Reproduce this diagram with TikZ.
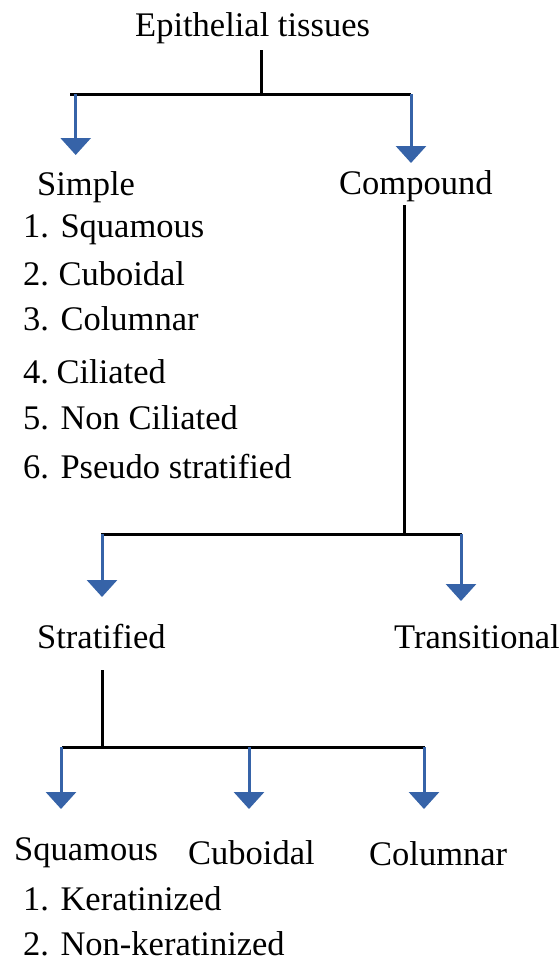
\documentclass[tikz,border=0pt]{standalone}
\usepackage{fontspec}
\setmainfont{Liberation Serif}
\usetikzlibrary{arrows.meta}
\definecolor{arrowblue}{RGB}{54,99,168}
\begin{document}
\begin{tikzpicture}[x=1pt,y=-1pt,
  lbl/.style={anchor=base west,inner sep=0pt,font=\fontsize{34.5}{40}\selectfont},
  tree/.style={line width=3pt,black},
  down/.style={line width=3pt,arrowblue,-{Triangle[width=30pt,length=17pt]}}]
\useasboundingbox (0,0) rectangle (559,962);
% texts
\node[lbl] (root) at (135,36) {Epithelial tissues};
\node[lbl] (simple) at (37,195) {Simple};
\node[lbl] (compound) at (339,194) {Compound};
\node[lbl] (s1) at (23,237) {1. Squamous};
\node[lbl] (s2) at (23,285) {2. \hspace{-2pt}Cuboidal};
\node[lbl] (s3) at (23,330) {3. Columnar};
\node[lbl] (s4) at (23,383) {4. \hspace{-4pt}Ciliated};
\node[lbl] (s5) at (23,429) {5. Non Ciliated};
\node[lbl] (s6) at (23,478) {6. Pseudo stratified};
\node[lbl] (strat) at (37,648) {Stratified};
\node[lbl] (trans) at (394,648) {Transitional};
\node[lbl] (squ) at (14,860) {Squamous};
\node[lbl] (cub) at (188,864) {Cuboidal};
\node[lbl] (col) at (369,865) {Columnar};
\node[lbl] (k1) at (23,910) {1. Keratinized};
\node[lbl] (k2) at (23,955) {2. Non-keratinized};
% level 1
\coordinate (r1) at (261,50);
\coordinate (r2) at (261,94);
\coordinate (b1l) at (70,94);
\coordinate (b1r) at (411,94);
\coordinate (a1s) at (75.7,94);
\coordinate (a1t) at (75.7,155);
\coordinate (a2s) at (411,94);
\coordinate (a2t) at (411,163);
\draw[tree] (r1) -- (r2);
\draw[tree] (b1l) -- (b1r);
\draw[down] (a1s) -- (a1t);
\draw[down] (a2s) -- (a2t);
% level 2
\coordinate (c1) at (404,205);
\coordinate (c2) at (404,534);
\coordinate (b2l) at (101,534);
\coordinate (b2r) at (462,534);
\coordinate (a3s) at (102,534);
\coordinate (a3t) at (102,597);
\coordinate (a4s) at (461,534);
\coordinate (a4t) at (461,601);
\draw[tree] (c1) -- (c2);
\draw[tree] (b2l) -- (b2r);
\draw[down] (a3s) -- (a3t);
\draw[down] (a4s) -- (a4t);
% level 3
\coordinate (d1) at (102,670);
\coordinate (d2) at (102,747);
\coordinate (b3l) at (62,747);
\coordinate (b3r) at (425,747);
\coordinate (a5s) at (61,747);
\coordinate (a5t) at (61,809);
\coordinate (a6s) at (249,747);
\coordinate (a6t) at (249,809);
\coordinate (a7s) at (424,747);
\coordinate (a7t) at (424,809);
\draw[tree] (d1) -- (d2);
\draw[tree] (b3l) -- (b3r);
\draw[down] (a5s) -- (a5t);
\draw[down] (a6s) -- (a6t);
\draw[down] (a7s) -- (a7t);
\end{tikzpicture}
\end{document}
